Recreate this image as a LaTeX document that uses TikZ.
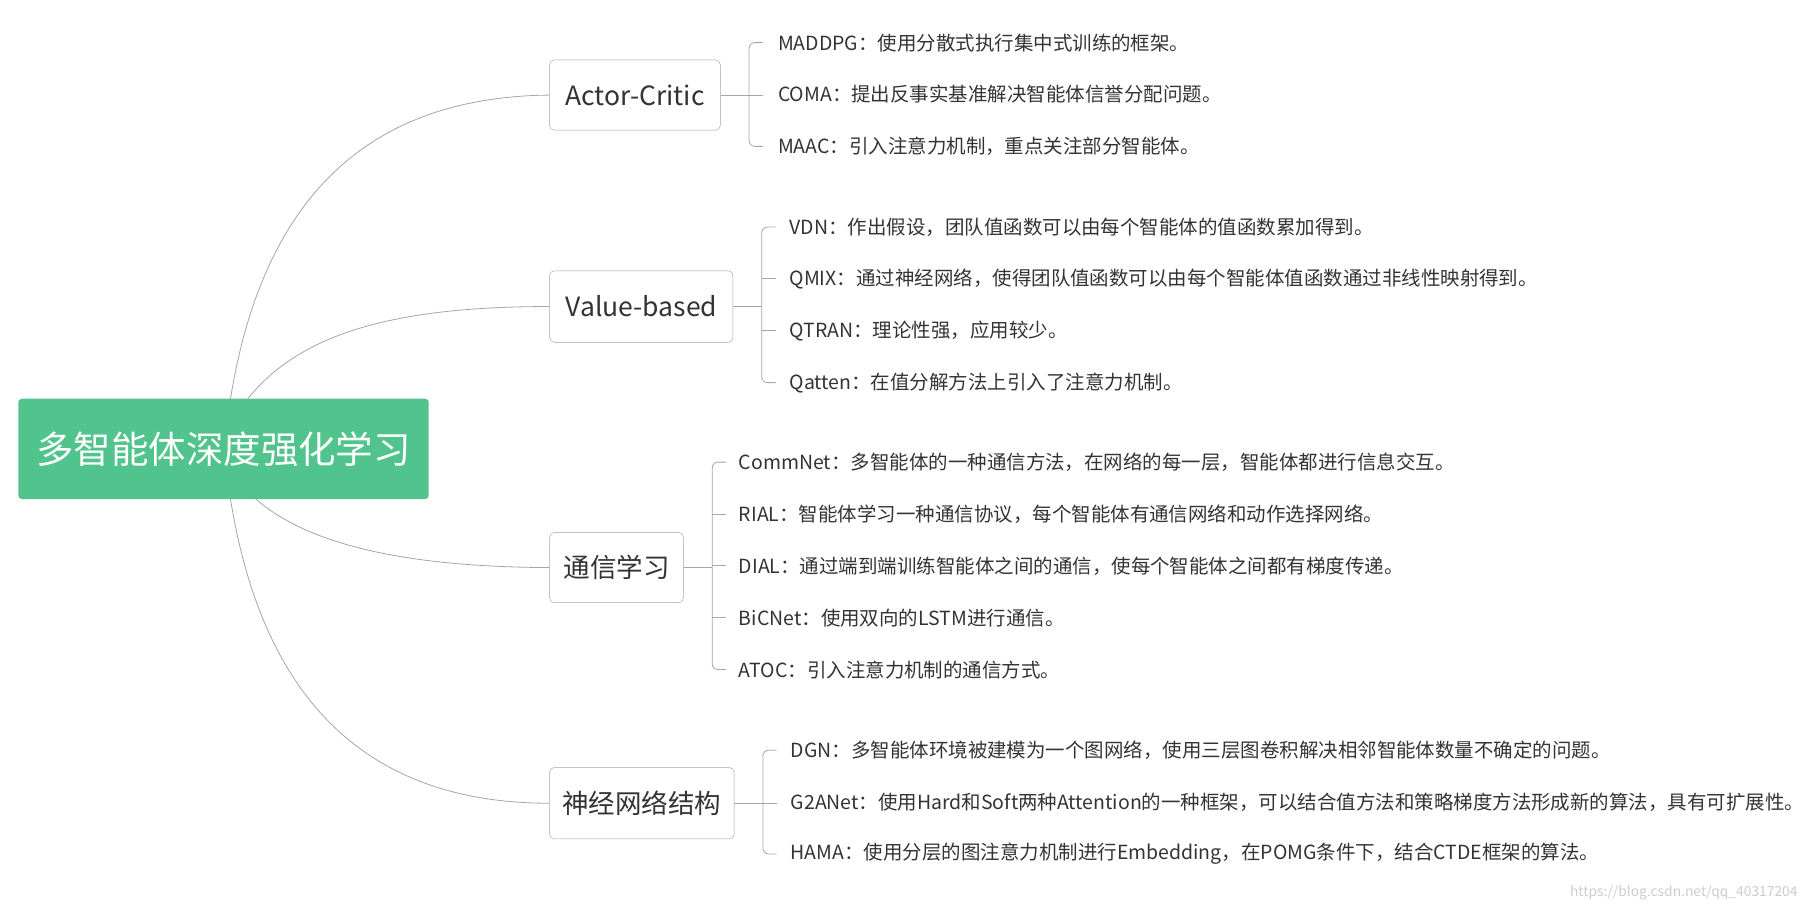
\documentclass[tikz,border=0pt]{standalone}
\usepackage{fontspec}
\setmainfont{Noto Sans CJK SC}
\begin{document}
\begin{tikzpicture}[x=1pt,y=-1pt,
  root/.style={fill=rootg,rounded corners=3pt,text=white,font=\fontsize{32.5}{36}\selectfont,inner sep=0},
  br/.style={draw=gray!70,rounded corners=4pt,fill=white,font=\fontsize{23}{26}\selectfont,text=black!80,inner sep=0},
  leaf/.style={anchor=west,font=\fontsize{16.9}{20}\selectfont,text=black!80,inner sep=0},
  ln/.style={draw=gray!70,line width=0.7pt},
  bk/.style={ln,rounded corners=5pt}]
\definecolor{rootg}{HTML}{50C48C}
\useasboundingbox (0,0) rectangle (1568,792);
\node[root,minimum width=356,minimum height=87] (root) at (194,389.5) {多智能体深度强化学习};
\node[br,minimum width=148,minimum height=61] (ac) at (551,82.5) {Actor-Critic};
\node[br,minimum width=159,minimum height=62] (vb) at (556.5,266) {Value-based};
\node[br,minimum width=116,minimum height=61] (cl) at (535,492.5) {通信学习};
\node[br,minimum width=160,minimum height=62] (nn) at (557,697) {神经网络结构};
\coordinate (r1) at (200,346); \coordinate (r2) at (215,346);
\coordinate (r3) at (222,433); \coordinate (r4) at (200,433);
\draw[ln] (r1) .. controls (230,160) and (330,84) .. (ac.west);
\draw[ln] (r2) .. controls (260,290) and (340,266) .. (vb.west);
\draw[ln] (r3) .. controls (270,475) and (360,492) .. (cl.west);
\draw[ln] (r4) .. controls (230,620) and (330,697) .. (nn.west);
% Actor-Critic
\coordinate (a0) at (650,82.5);
\draw[ln] (ac.east) -- (a0);
\draw[bk] (662,37) -- (650,37) -- (650,127) -- (662,127);
\draw[ln] (a0) -- (662,82.5);
\node[leaf] (a1) at (675,37) {MADDPG：使用分散式执行集中式训练的框架。};
\node[leaf] (a2) at (675,82) {COMA：提出反事实基准解决智能体信誉分配问题。};
\node[leaf] (a3) at (675,127) {MAAC：引入注意力机制，重点关注部分智能体。};
% Value-based
\coordinate (v0) at (661,266);
\draw[ln] (vb.east) -- (v0);
\draw[bk] (673,197) -- (661,197) -- (661,332) -- (673,332);
\draw[ln] (661,242) -- (673,242) (661,287) -- (673,287);
\node[leaf] (v1) at (685,197) {VDN：作出假设，团队值函数可以由每个智能体的值函数累加得到。};
\node[leaf] (v2) at (685,242) {QMIX：通过神经网络，使得团队值函数可以由每个智能体值函数通过非线性映射得到。};
\node[leaf] (v3) at (685,287) {QTRAN：理论性强，应用较少。};
\node[leaf] (v4) at (685,332) {Qatten：在值分解方法上引入了注意力机制。};
% Communication
\coordinate (c0) at (618,492.5);
\draw[ln] (cl.east) -- (c0);
\draw[bk] (630,401) -- (618,401) -- (618,581) -- (630,581);
\draw[ln] (618,446) -- (630,446) (618,491) -- (630,491) (618,536) -- (630,536);
\node[leaf] (c1) at (641,401) {CommNet：多智能体的一种通信方法，在网络的每一层，智能体都进行信息交互。};
\node[leaf] (c2) at (641,446) {RIAL：智能体学习一种通信协议，每个智能体有通信网络和动作选择网络。};
\node[leaf] (c3) at (641,491) {DIAL：通过端到端训练智能体之间的通信，使每个智能体之间都有梯度传递。};
\node[leaf] (c4) at (641,536) {BiCNet：使用双向的LSTM进行通信。};
\node[leaf] (c5) at (641,581) {ATOC：引入注意力机制的通信方式。};
% Neural
\coordinate (n0) at (662,697);
\draw[ln] (nn.east) -- (n0);
\draw[bk] (674,651) -- (662,651) -- (662,741) -- (674,741);
\draw[ln] (n0) -- (674,697);
\node[leaf] (n1) at (686,651) {DGN：多智能体环境被建模为一个图网络，使用三层图卷积解决相邻智能体数量不确定的问题。};
\node[leaf] (n2) at (686,696) {G2ANet：使用Hard和Soft两种Attention的一种框架，可以结合值方法和策略梯度方法形成新的算法，具有可扩展性。};
\node[leaf] (n3) at (686,741) {HAMA：使用分层的图注意力机制进行Embedding，在POMG条件下，结合CTDE框架的算法。};
\node[anchor=east,text=gray!40,font=\fontsize{12}{14}\selectfont,inner sep=0] (wm) at (1560,775) {https://blog.csdn.net/qq\_40317204};
\end{tikzpicture}
\end{document}
